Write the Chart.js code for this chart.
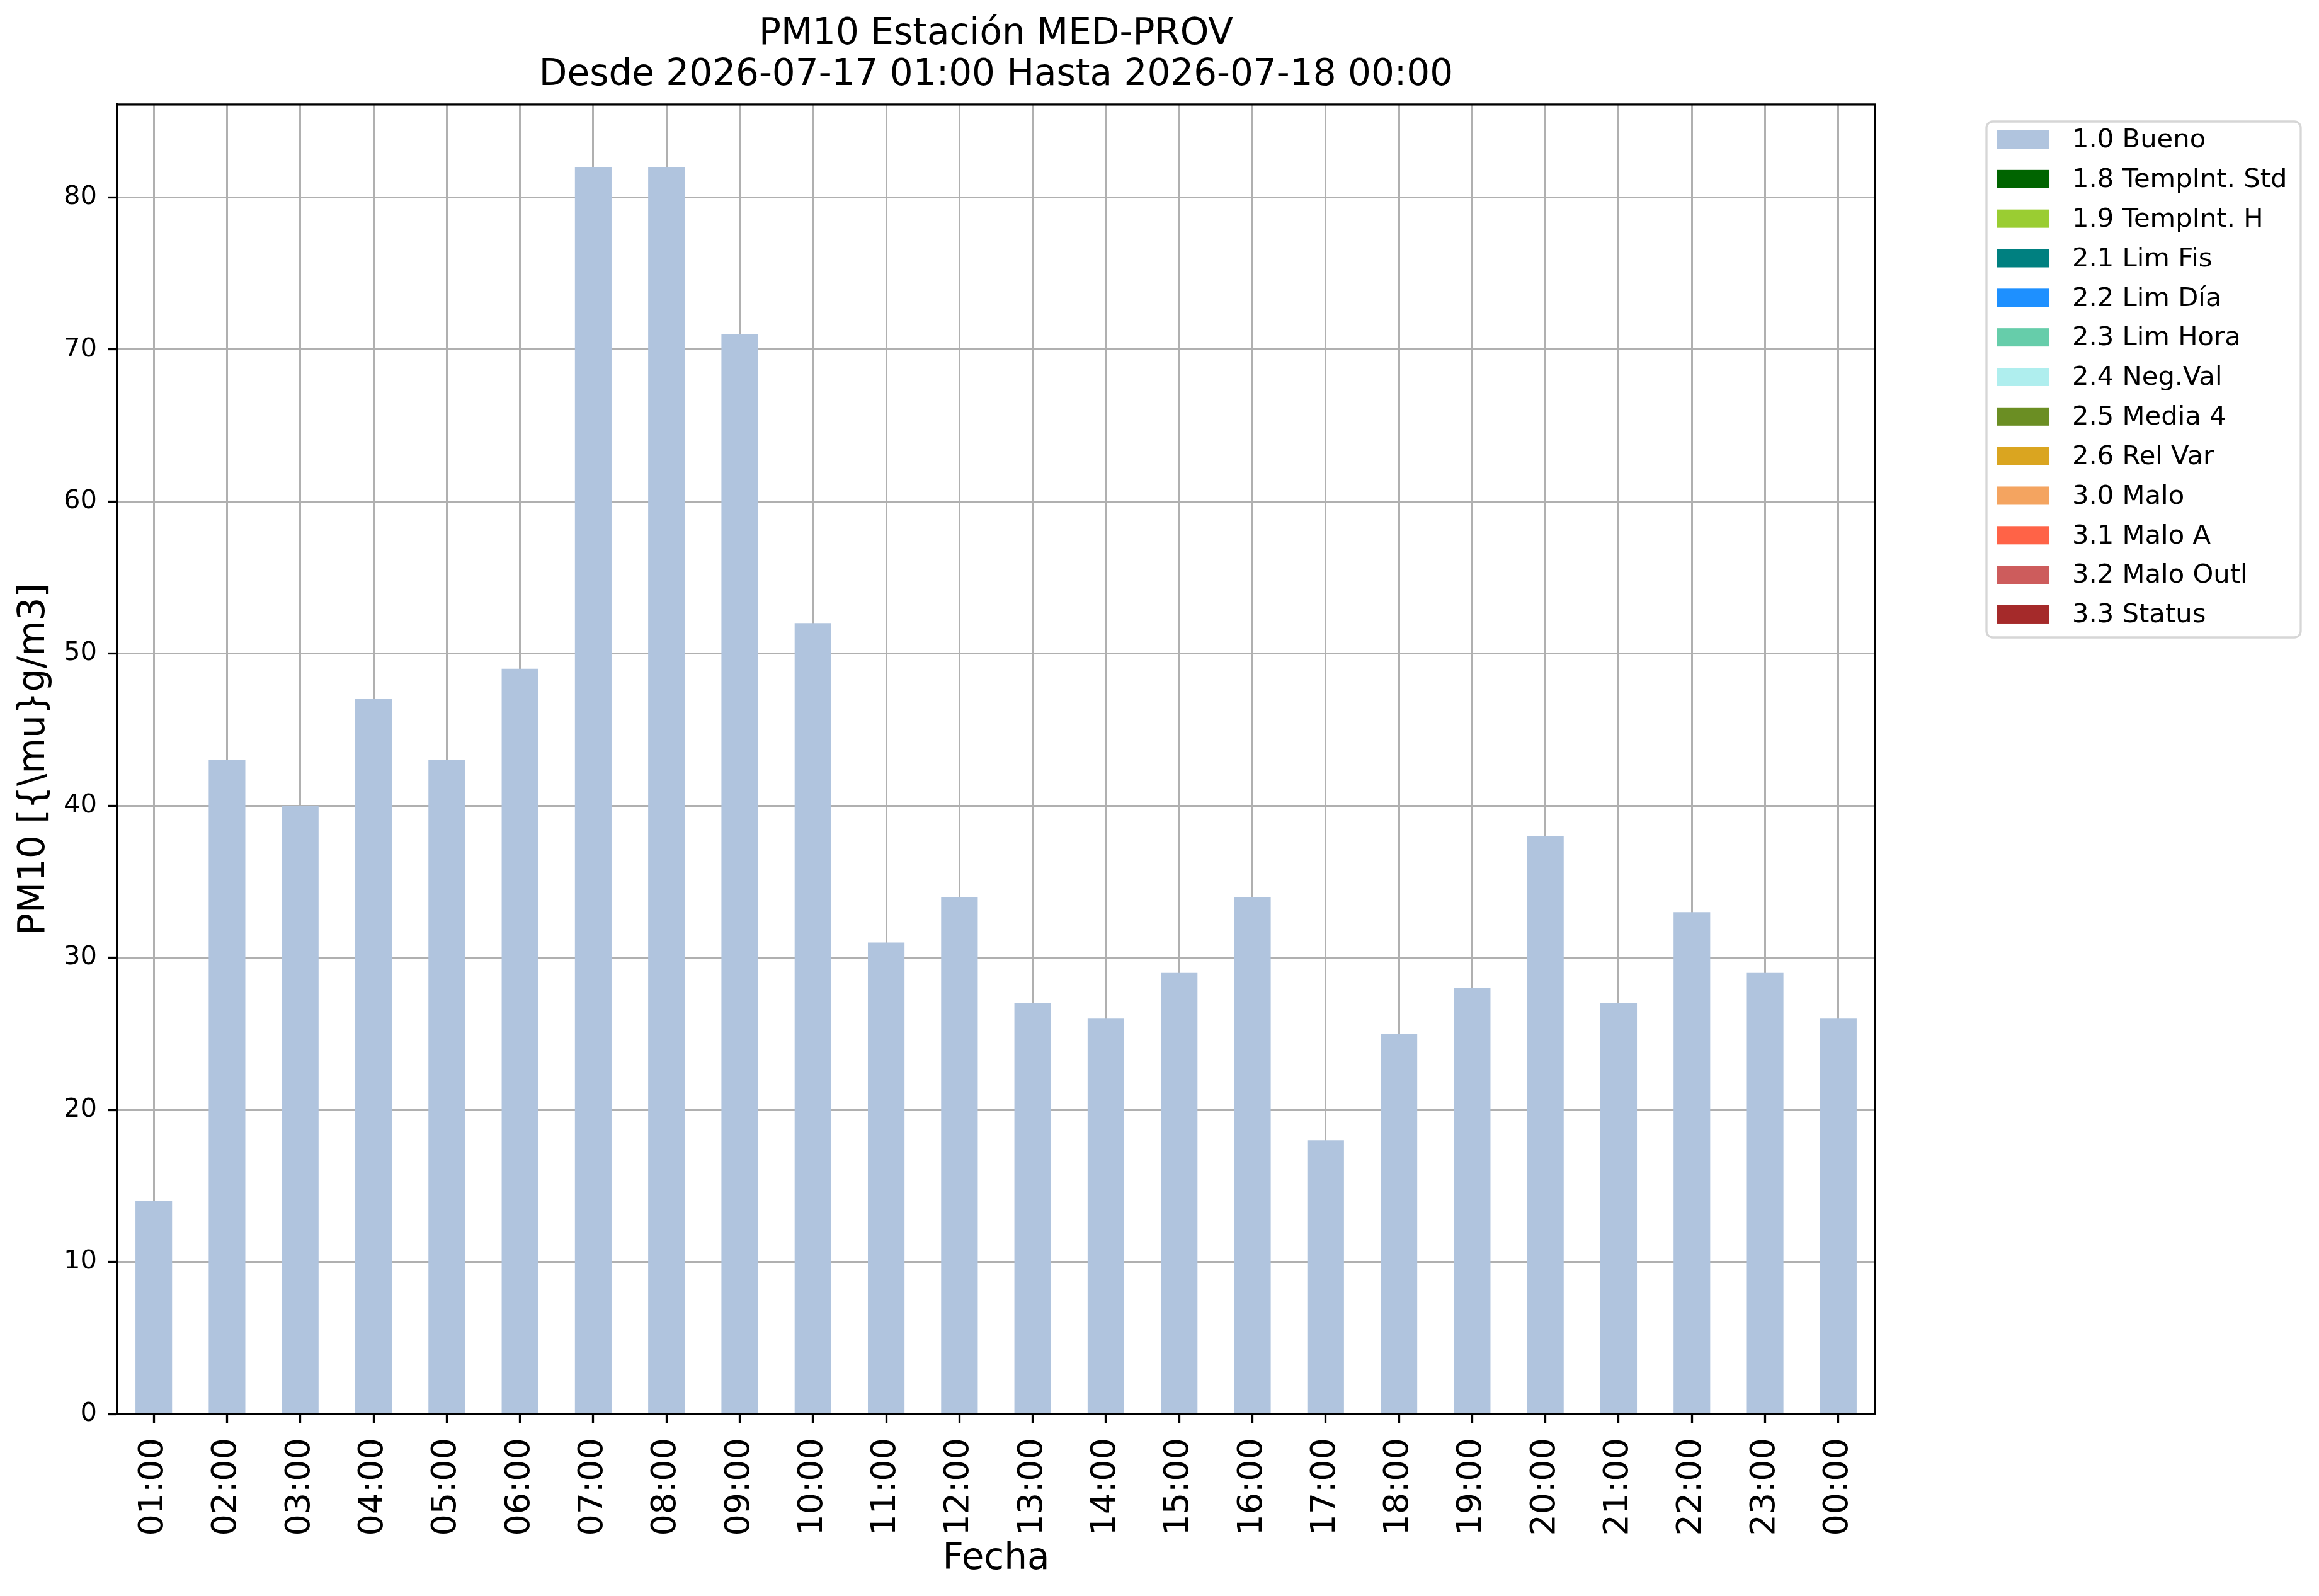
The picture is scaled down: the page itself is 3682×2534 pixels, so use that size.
<!DOCTYPE html>
<html>
<head>
<meta charset="utf-8">
<title>PM10 MED-PROV</title>
<script src="https://cdn.jsdelivr.net/npm/chart.js@4/dist/chart.umd.min.js"></script>
<style>
  html, body { margin: 0; padding: 0; background: #fff; }
  canvas { display: block; }
</style>
</head>
<body>
<canvas id="grafico" width="3682" height="2534"></canvas>
<script>
// horas del dia (eje x)
const horas = ['01:00', '02:00', '03:00', '04:00', '05:00', '06:00', '07:00', '08:00',
  '09:00', '10:00', '11:00', '12:00', '13:00', '14:00', '15:00', '16:00',
  '17:00', '18:00', '19:00', '20:00', '21:00', '22:00', '23:00', '00:00'];

// PM10 con flag 1.0 Bueno
const valoresBueno = [14, 43, 40, 47, 43, 49, 82, 82, 71, 52, 31, 34,
  27, 26, 29, 34, 18, 25, 28, 38, 27, 33, 29, 26];

// categorias de validacion y sus colores
const categorias = ['1.0 Bueno', '1.8 TempInt. Std', '1.9 TempInt. H', '2.1 Lim Fis',
  '2.2 Lim Día', '2.3 Lim Hora', '2.4 Neg.Val', '2.5 Media 4', '2.6 Rel Var',
  '3.0 Malo', '3.1 Malo A', '3.2 Malo Outl', '3.3 Status'];
const colores = ['#b0c4de', '#006400', '#9acd32', '#008080', '#1e90ff', '#66cdaa',
  '#afeeee', '#6b8e23', '#daa520', '#f4a460', '#ff6347', '#cd5c5c', '#a52a2a'];

// solo "Bueno" tiene datos en este periodo, el resto van vacios
const seriesPorCategoria = [valoresBueno, [], [], [], [], [], [], [], [], [], [], [], []];

const yTicks = [0, 10, 20, 30, 40, 50, 60, 70, 80];
const yMax = 86.1;

Chart.defaults.font.family = 'DejaVu Sans';
Chart.defaults.color = '#000';

// marco completo del area (arriba y derecha tambien)
const marco = {
  id: 'marco',
  afterDraw(chart) {
    const a = chart.chartArea;
    const ctx = chart.ctx;
    ctx.save();
    ctx.strokeStyle = '#000';
    ctx.lineWidth = 3.3;
    ctx.strokeRect(a.left, a.top, a.right - a.left, a.bottom - a.top);
    ctx.restore();
  }
};

// leyenda al estilo matplotlib, fuera del grafico
const leyenda = {
  id: 'leyenda',
  afterDraw(chart) {
    const ctx = chart.ctx;
    const x0 = 3154, y0 = 193, w = 499, h = 819;
    ctx.save();
    ctx.beginPath();
    ctx.roundRect(x0, y0, w, h, 10);
    ctx.fillStyle = 'rgba(255,255,255,0.8)';
    ctx.fill();
    ctx.strokeStyle = '#d6d6d6';
    ctx.lineWidth = 3.3;
    ctx.stroke();
    ctx.font = '41.7px "DejaVu Sans"';
    ctx.textBaseline = 'middle';
    ctx.textAlign = 'left';
    chart.data.datasets.forEach((ds, i) => {
      const cy = 221.5 + i * 62.83;
      ctx.fillStyle = ds.backgroundColor;
      ctx.fillRect(3171, cy - 14.5, 83, 29);
      ctx.fillStyle = '#000';
      ctx.fillText(ds.label, 3290, cy + 2);
    });
    ctx.restore();
  }
};

const ctx = document.getElementById('grafico').getContext('2d');
const grafico = new Chart(ctx, {
  type: 'bar',
  data: {
    labels: horas,
    datasets: categorias.map((c, i) => ({
      label: c,
      data: seriesPorCategoria[i],
      backgroundColor: colores[i],
      borderWidth: 0,
      categoryPercentage: 1.0,
      barPercentage: 0.5
    }))
  },
  options: {
    responsive: false,
    devicePixelRatio: 1,
    animation: false,
    layout: {
      padding: { left: 0, right: 705, top: 0, bottom: 0 }
    },
    scales: {
      x: {
        stacked: true,
        offset: true,
        z: 1,
        grid: {
          offset: false,
          color: '#b0b0b0',
          lineWidth: 3,
          tickLength: 15,
          tickColor: '#000',
          tickWidth: 3.3
        },
        border: { color: '#000', width: 3.3 },
        ticks: {
          autoSkip: false,
          minRotation: 90,
          maxRotation: 90,
          padding: 23,
          font: { size: 54 }
        },
        title: {
          display: true,
          text: 'Fecha',
          font: { size: 58 },
          padding: { top: 0, bottom: 23 }
        },
        afterFit(scale) { scale.height = 289; }
      },
      y: {
        stacked: true,
        min: 0,
        max: yMax,
        z: 1,
        grid: {
          color: '#b0b0b0',
          lineWidth: 3,
          tickLength: 15,
          tickColor: '#000',
          tickWidth: 3.3
        },
        border: { color: '#000', width: 3.3 },
        afterBuildTicks(scale) {
          scale.ticks = yTicks.map(v => ({ value: v }));
        },
        ticks: {
          padding: 17,
          font: { size: 41.7 }
        },
        title: {
          display: true,
          text: 'PM10 [{\\mu}g/m3]',
          font: { size: 58 },
          padding: { top: 20, bottom: 0 }
        },
        afterFit(scale) { scale.width = 186; }
      }
    },
    plugins: {
      legend: { display: false },
      tooltip: { enabled: false },
      title: {
        display: true,
        fullSize: false,
        text: ['PM10 Estación MED-PROV', 'Desde 2026-07-17 01:00 Hasta 2026-07-18 00:00'],
        color: '#000',
        font: { size: 58, weight: 'normal', lineHeight: 1.12 },
        padding: { top: 22, bottom: 14 }
      }
    }
  },
  plugins: [marco, leyenda]
});
</script>
</body>
</html>
